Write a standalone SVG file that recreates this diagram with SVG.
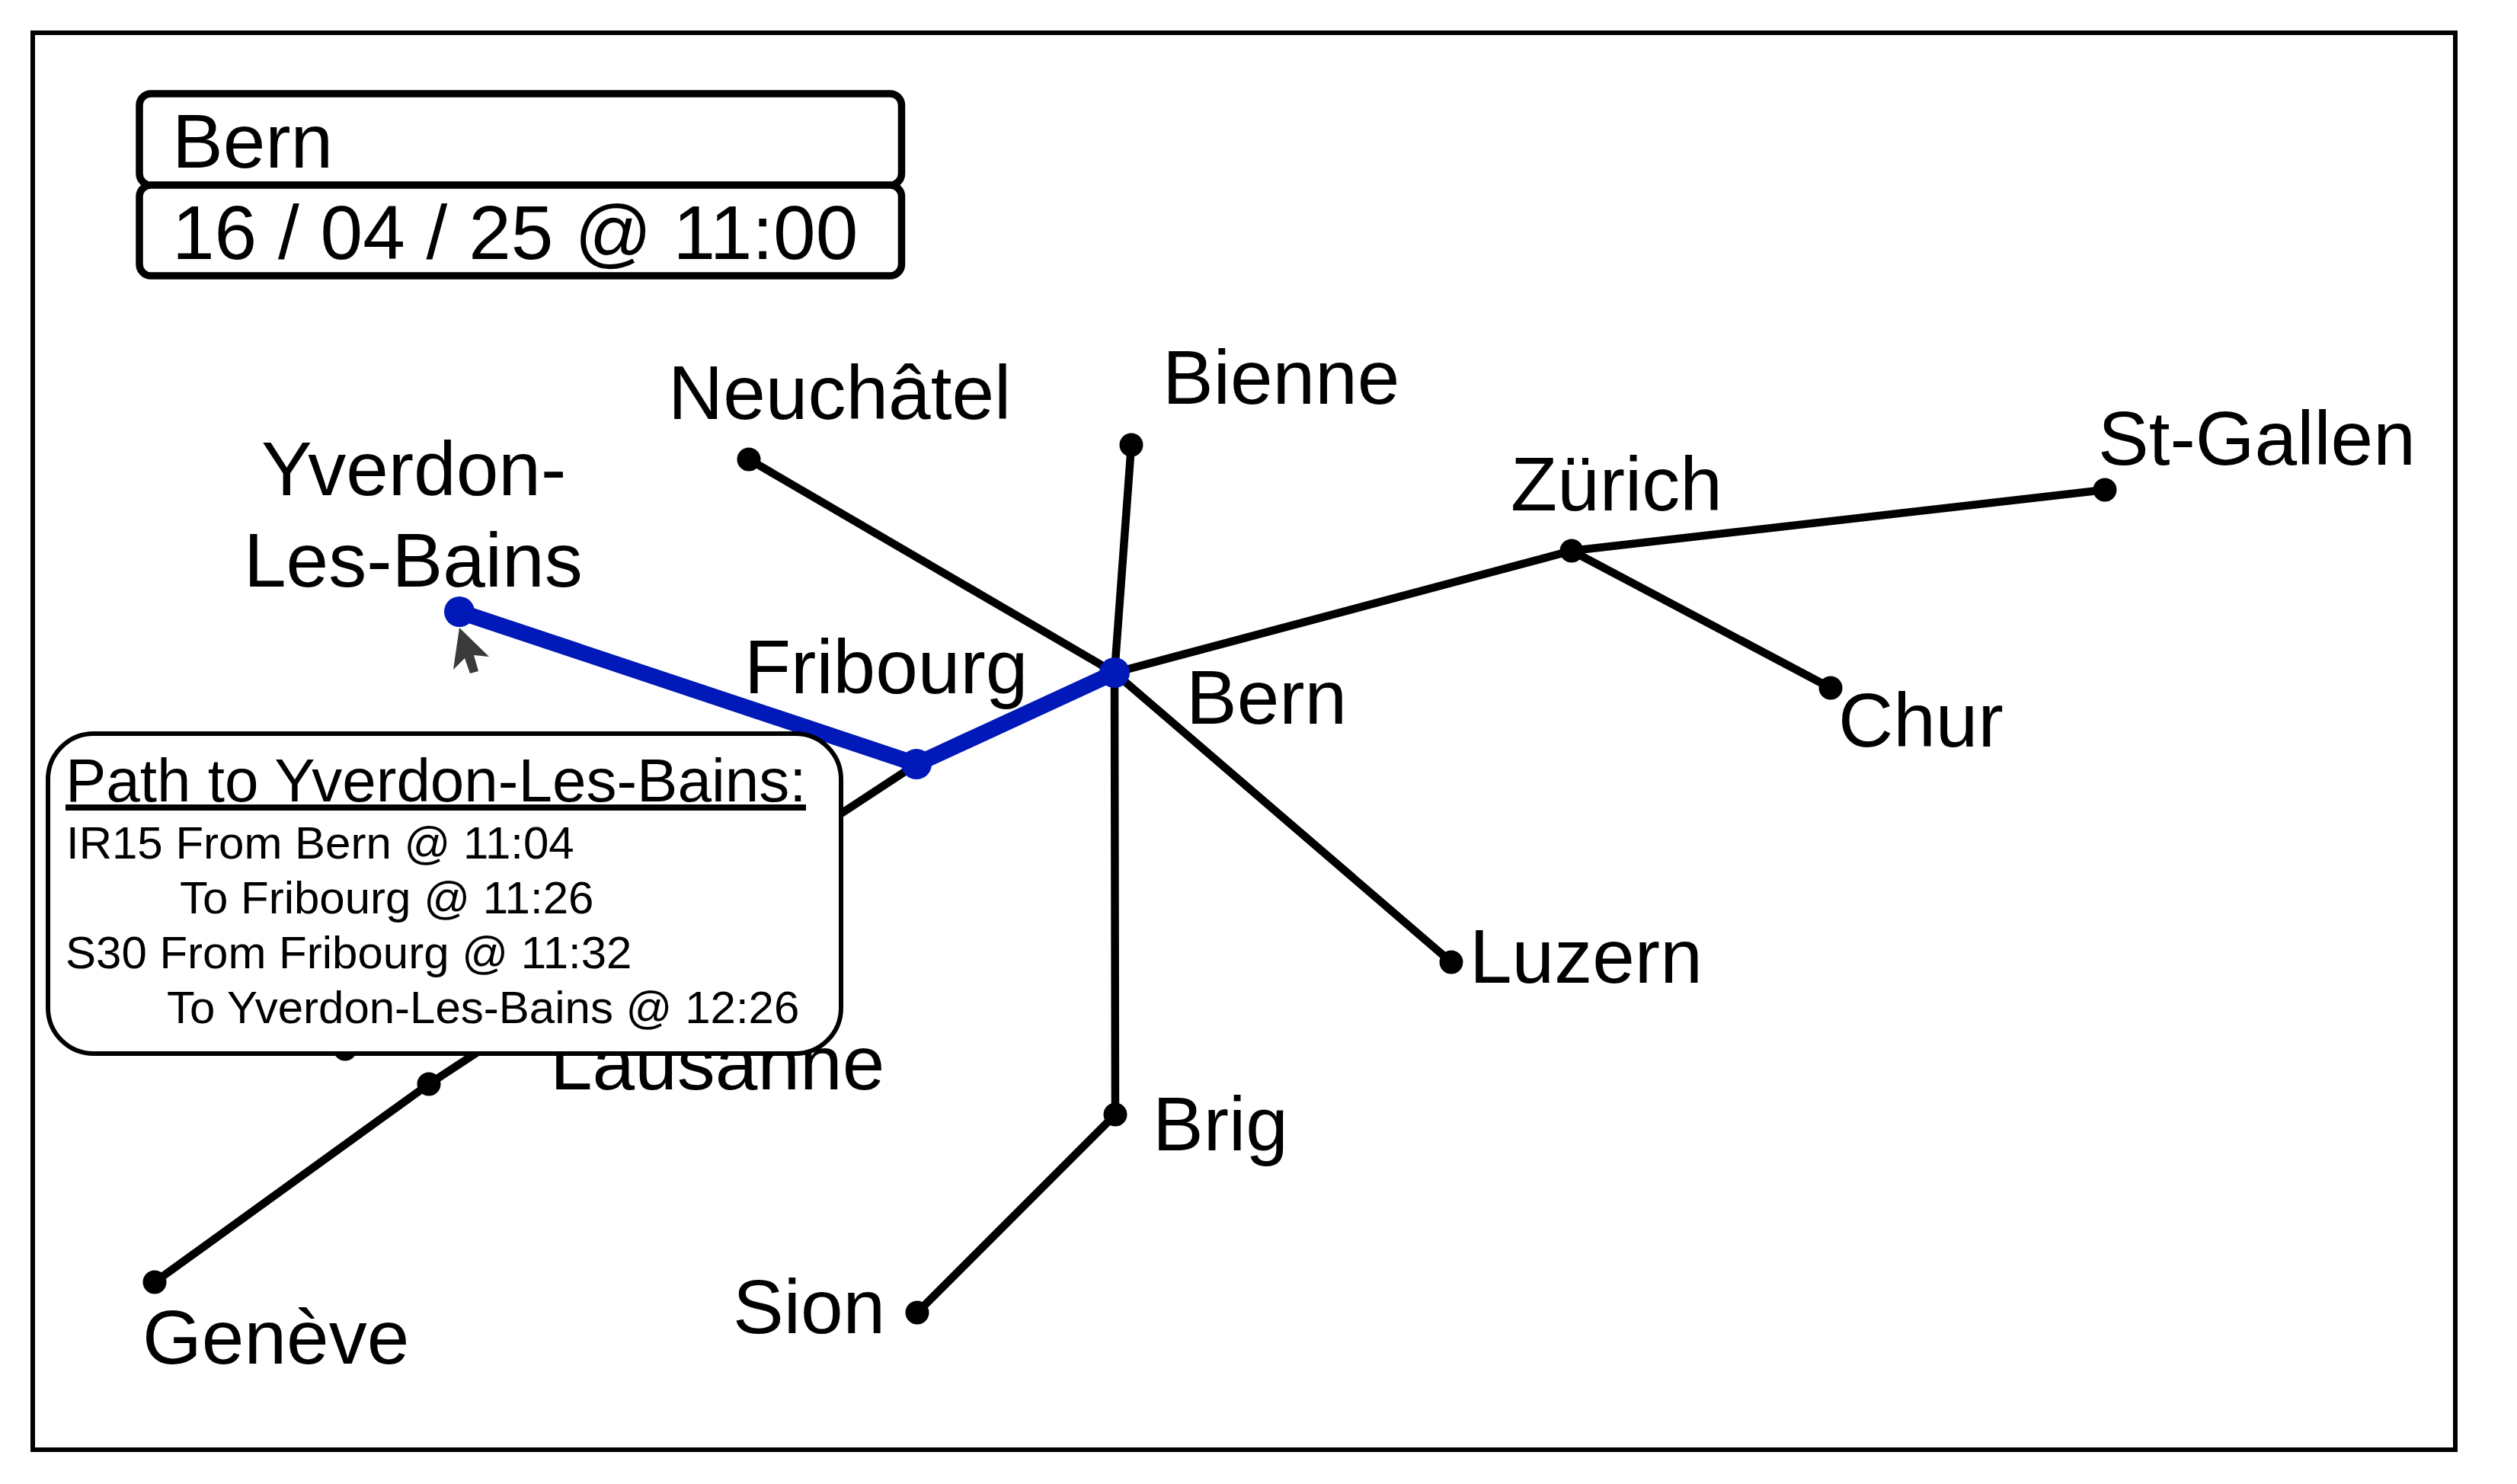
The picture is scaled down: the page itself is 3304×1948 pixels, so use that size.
<svg xmlns="http://www.w3.org/2000/svg" width="3304" height="1948" viewBox="0 0 3304 1948">
<style>
text{font-family:"Liberation Sans",Arial,sans-serif;fill:#000}
.l{font-size:100px}
.s{font-size:60px}
.c{fill:none;stroke:#000;stroke-width:10.5;stroke-linecap:round}
.b{fill:none;stroke:#0019b8;stroke-width:21;stroke-linecap:round;stroke-linejoin:round}
.d{fill:#000}
.e{fill:#0019b8}
.box{fill:#fff;stroke:#000;stroke-width:9.5}
</style>
<rect width="3304" height="1948" fill="#fff"/>
<rect x="43" y="43" width="3180" height="1860" fill="none" stroke="#000" stroke-width="6"/>
<g id="connectors">
<path class="c" d="M1463 883L983 603M1463 883L1485 584M1463 883L2063 723L2763 643M2063 723L2403 903M1463 883L1905 1263M1463 883L1464 1463L1204 1723M1203 1003L563 1423L203 1683"/>
<path class="b" d="M603 803L1203 1003L1463 883"/>
</g>
<g id="node-neuchatel"><circle class="d" cx="983" cy="603" r="15.5"/><text class="l" x="877" y="550">Neuchâtel</text></g>
<g id="node-bienne"><circle class="d" cx="1485" cy="584" r="15.5"/><text class="l" x="1526" y="530">Bienne</text></g>
<g id="node-zurich"><circle class="d" cx="2063" cy="723" r="15.5"/><text class="l" x="1983" y="670">Zürich</text></g>
<g id="node-stgallen"><circle class="d" cx="2763" cy="643" r="15.5"/><text class="l" x="2754" y="610">St-Gallen</text></g>
<g id="node-chur"><circle class="d" cx="2403" cy="903" r="15.5"/><text class="l" x="2413" y="980">Chur</text></g>
<g id="node-luzern"><circle class="d" cx="1905" cy="1263" r="15.5"/><text class="l" x="1929" y="1290">Luzern</text></g>
<g id="node-brig"><circle class="d" cx="1464" cy="1463" r="15.5"/><text class="l" x="1513" y="1510">Brig</text></g>
<g id="node-sion"><circle class="d" cx="1204" cy="1723" r="15.5"/><text class="l" x="962" y="1750">Sion</text></g>
<g id="node-geneve"><circle class="d" cx="203" cy="1683" r="15.5"/><text class="l" x="187" y="1790">Genève</text></g>
<g id="node-lausanne"><circle class="d" cx="563" cy="1423" r="15.5"/><text class="l" x="722" y="1430">Lausanne</text></g>
<g id="node-hidden"><circle class="d" cx="453" cy="1377" r="15.5"/></g>
<g id="node-yverdon"><circle class="e" cx="603" cy="803" r="20"/><text class="l" x="343" y="650">Yverdon-</text><text class="l" x="320" y="770">Les-Bains</text></g>
<g id="node-fribourg"><circle class="e" cx="1203" cy="1003" r="20"/><text class="l" x="977" y="910">Fribourg</text></g>
<g id="node-bern"><circle class="e" cx="1463" cy="883" r="20"/><text class="l" x="1557" y="950">Bern</text></g>
<polygon id="cursor" points="603,824 642,862 622,860 628,881 617,884 610,864 595,879" fill="#3a3a3a"/>
<g id="station-box"><rect class="box" x="183" y="123" width="1000.5" height="120" rx="15"/><text class="l" x="226" y="220">Bern</text></g>
<g id="date-box"><rect class="box" x="183" y="243" width="1000.5" height="119" rx="15"/><text class="l" x="226" y="340">16 / 04 / 25 @ 11:00</text></g>
<g id="tooltip"><rect x="63" y="963" width="1041" height="420" rx="60" fill="#fff" stroke="#000" stroke-width="6"/>
<text x="86" y="1052" font-size="80">Path to Yverdon-Les-Bains:</text>
<rect x="86" y="1056" width="972" height="8"/>
<text class="s" x="87" y="1127">IR15 From Bern @ 11:04</text>
<text class="s" x="236" y="1199">To Fribourg @ 11:26</text>
<text class="s" x="86" y="1271">S30 From Fribourg @ 11:32</text>
<text class="s" x="219" y="1343">To Yverdon-Les-Bains @ 12:26</text></g>
</svg>
